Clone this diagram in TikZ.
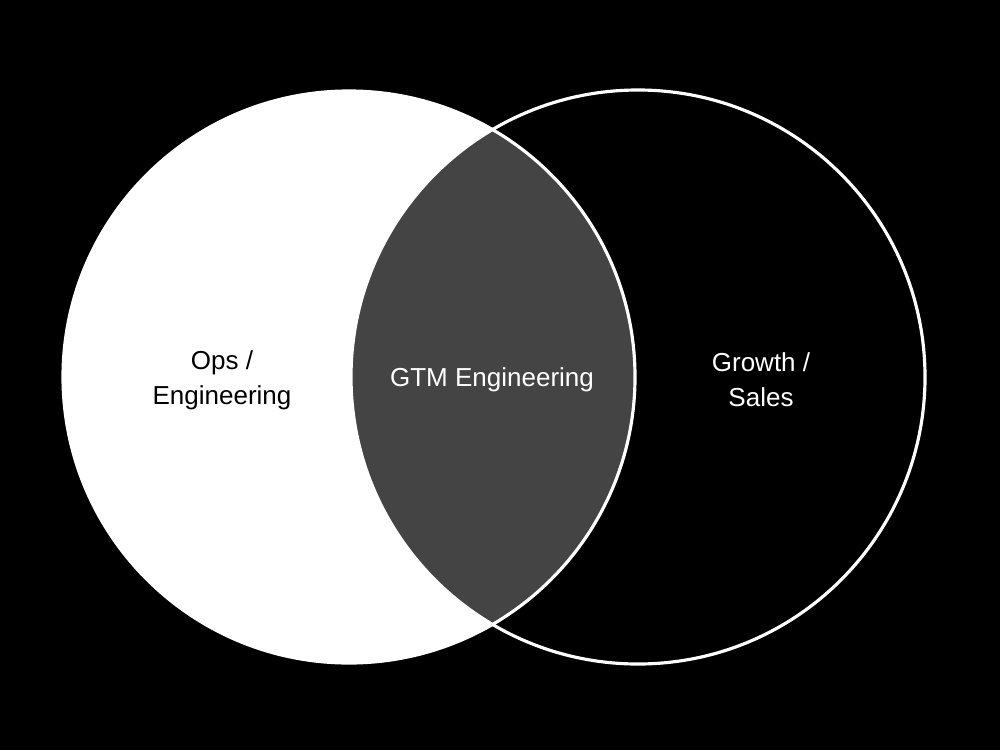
\documentclass[tikz,border=0pt]{standalone}
\definecolor{VennInk}{HTML}{000000}
\definecolor{VennPaper}{HTML}{FFFFFF}
\definecolor{VennShade}{HTML}{444444}
\usepackage{fontspec}
\setmainfont{Liberation Sans}
\usetikzlibrary{positioning}

\begin{document}
\begin{tikzpicture}[x=1.0cm,y=1cm,
    setlabel/.style={align=center,font=\fontsize{7.4}{10}\selectfont}]
    \fill[VennInk] (0,0) rectangle (10,7.5);
    \useasboundingbox (0,0) rectangle (10,7.5);
    % left set, filled
    \fill[VennPaper] (3.49,3.73) circle (2.86);
    % overlap
    \begin{scope}
      \clip (3.49,3.73) circle (2.86);
      \fill[VennShade] (6.38,3.73) circle (2.87);
    \end{scope}
    \draw[line width=0.9pt,draw=VennPaper] (3.49,3.73) circle (2.86);
    \draw[line width=0.9pt,draw=VennPaper] (6.38,3.73) circle (2.87);
    \node[setlabel,text=VennInk] (ops) at (2.22,3.70) {Ops /\\Engineering};
    \node[setlabel,text=VennPaper] (gtm) at (4.92,3.70) {GTM Engineering};
    \node[setlabel,text=VennPaper] (growth) at (7.61,3.70) {Growth /\\Sales};
  \end{tikzpicture}
\end{document}
